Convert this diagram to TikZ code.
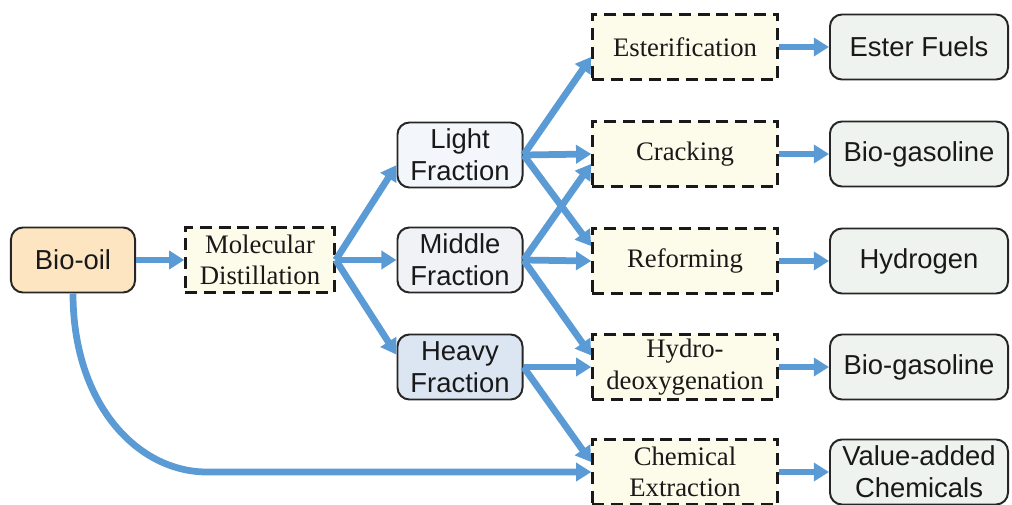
\documentclass[tikz,border=0pt]{standalone}
\usepackage{fontspec}
\setmainfont{Liberation Serif}
\setsansfont{Liberation Sans}
\usetikzlibrary{arrows.meta}
\definecolor{flowblue}{RGB}{91,155,213}
\definecolor{oilfill}{RGB}{252,229,192}
\definecolor{procfill}{RGB}{253,251,234}
\definecolor{lightfill}{RGB}{243,246,251}
\definecolor{middlefill}{RGB}{241,242,245}
\definecolor{heavyfill}{RGB}{220,230,242}
\definecolor{prodfill}{RGB}{239,243,240}
\begin{document}
\begin{tikzpicture}
[x=0.025cm,y=0.025cm,
  basedecorate/.style={shape=rectangle,minimum height=1.625cm,inner sep=2pt,align=center,line width=1.4pt,draw=black!85,text=black!90,font=\fontsize{19}{22.5}\selectfont},%
  rounddecorate/.style={basedecorate,rounded corners=0.3cm,font=\sffamily\fontsize{19.5}{22.5}\selectfont},%
  dashdecorate/.style={basedecorate,fill=procfill,line width=1.7pt,draw=black!90,dash pattern=on 8.5pt off 4.8pt},%
  linedecorate/.style={-{Triangle[length=0.38cm,width=0.45cm]},line width=4.8pt,draw=flowblue}]
\useasboundingbox (0,0) rectangle (1012,-505);
%% source and distillation
\node (bio) at (73,-260) [rounddecorate,fill=oilfill,minimum width=3.1cm] {Bio-oil};
\node (md) at (260,-260) [dashdecorate,minimum width=3.725cm] {Molecular\\Distillation};
%% fractions
\foreach \nodename/\y/\fillname/\txt in {light/-155/lightfill/Light, middle/-260/middlefill/Middle, heavy/-367/heavyfill/Heavy} {
  \node (\nodename) at (460,\y) [rounddecorate,fill=\fillname,minimum width=3.125cm] {\txt\\Fraction};
}
%% processes
\foreach \nodename/\y/\txt in {ester/-47/Esterification, crack/-154/Cracking, reform/-261/Reforming, hydro/-367/{Hydro-\\deoxygenation}, chem/-472/{Chemical\\Extraction}} {
  \node (\nodename) at (685,\y) [dashdecorate,minimum width=4.625cm] {\txt};
}
%% products
\foreach \nodename/\y/\txt in {fuel/-47/Ester Fuels, gas/-154/Bio-gasoline, hyd/-261/Hydrogen, gastwo/-367/Bio-gasoline, value/-472/{Value-added\\Chemicals}} {
  \node (\nodename) at (919,\y) [rounddecorate,fill=prodfill,minimum width=4.45cm] {\txt};
}
%% edges or lines
\path
\foreach \startnode/\endnode in {bio.east/md.west, md.east/light.189, md.east/middle.west, md.east/heavy.169,
  light.east/ester.186, light.east/crack.west, light.east/reform.171,
  middle.east/crack.186, middle.east/reform.west, middle.east/hydro.173,
  heavy.east/hydro.west, heavy.east/chem.174,
  ester.east/fuel.west, crack.east/gas.west, reform.east/hyd.west, hydro.east/gastwo.west, chem.east/value.west} {
  (\startnode) edge[linedecorate] (\endnode)
};
%% direct route to extraction
\coordinate (bend) at ([xshift=3.35cm]bio.south |- chem.west);
\draw[linedecorate] (bio.south) .. controls +(0,-110) and +(-70,0) .. (bend) -- (chem.west);
\end{tikzpicture}
\end{document}
